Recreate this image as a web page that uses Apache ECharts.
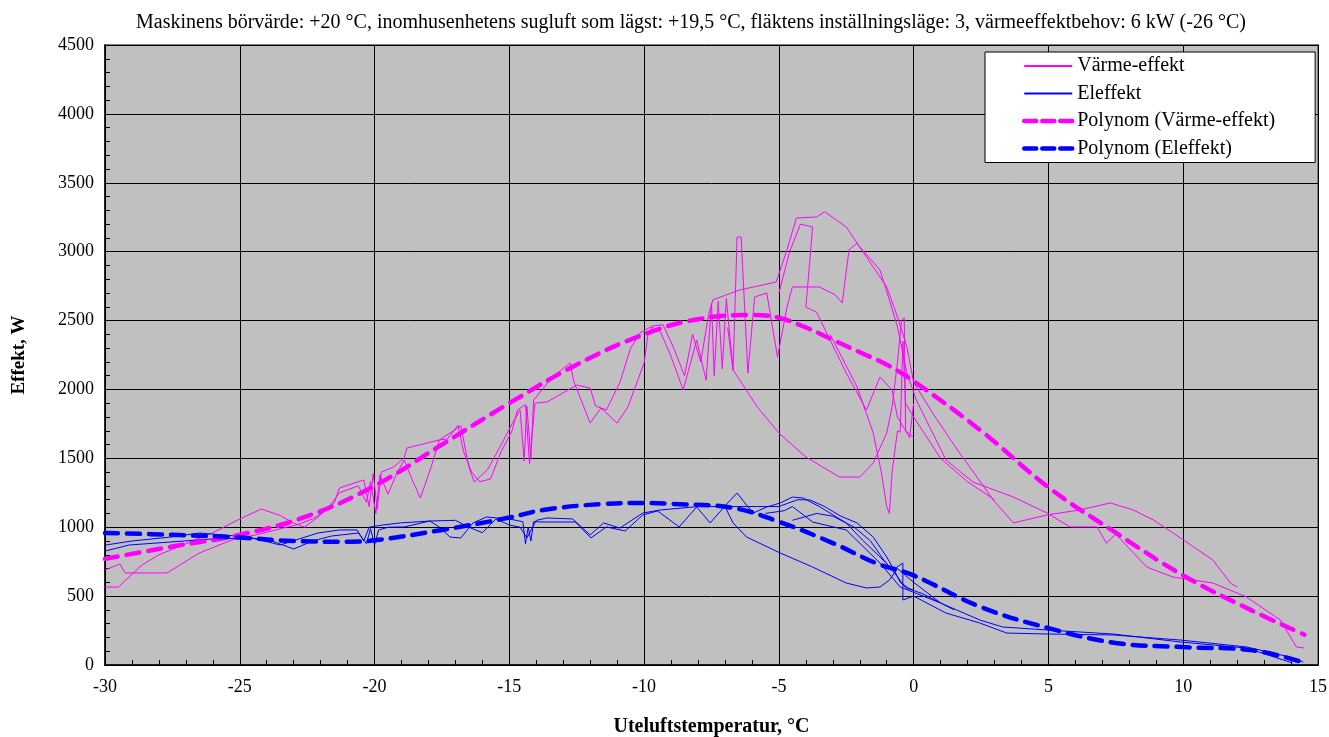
<!DOCTYPE html>
<html>
<head>
<meta charset="utf-8">
<script src="https://cdn.jsdelivr.net/npm/echarts@6/dist/echarts.min.js"></script>
<style>
html,body{margin:0;padding:0;background:#fff;}
#chart{width:1329px;height:737px;}
</style>
</head>
<body>
<div id="chart"></div>
<script>
const titleText = 'Maskinens börvärde: +20 °C, inomhusenhetens sugluft som lägst: +19,5 °C, fläktens inställningsläge: 3, värmeeffektbehov: 6 kW (-26 °C)';
const seriesNames = ['Värme-effekt', 'Eleffekt', 'Polynom (Värme-effekt)', 'Polynom (Eleffekt)'];
const xTicks = { min: -30, max: 15, step: 5 };
const yTicks = { min: 0, max: 4500, step: 500 };

// Värme-effekt (raw traces, [temperature, W])
const heatPass1 = [[-30,566],[-29.5,566],[-29.1,640],[-28.6,730],[-28,800],[-27,880],[-26,960],[-25,1060],[-24.2,1132],[-23.5,1085],[-23,1030],[-22.6,1000],[-22.1,1074],[-21.5,1176],[-21.3,1285],[-20.4,1343],[-20.2,1150],[-20.05,1390],[-19.9,1130],[-19.75,1400],[-19.3,1437],[-18.9,1502],[-18.8,1575],[-17.6,1633],[-16.8,1735],[-16.5,1437],[-16.3,1328],[-15.8,1420],[-15.3,1600],[-14.9,1750],[-14.6,1851],[-14.45,1480],[-14.35,1880],[-14.2,1500],[-14.1,1923],[-13.4,2090],[-12.75,2192],[-12.6,2054],[-12,1756],[-11.6,1865],[-11,1756],[-10.6,1873],[-10,2192],[-9.85,2410],[-9.7,2453],[-9.4,2420],[-9.05,2265],[-8.55,1996],[-8.05,2359],[-7.7,2068],[-7.5,2627],[-7.4,2100],[-7.25,2640],[-7.1,2150],[-6.95,2660],[-6.7,2141],[-6.55,3106],[-6.4,3106],[-6.15,2119],[-5.9,2671],[-5.45,2700],[-5.05,2235],[-4.7,2598],[-4.5,2744],[-3.5,2744],[-2.9,2685],[-2.65,2627],[-2.4,3012],[-2.1,3063],[-1.5,2889],[-1,2744],[-0.6,2526],[-0.25,2308],[0,2050],[0.8,1800],[1.7,1540],[2.4,1350],[2.95,1198],[3.7,1031],[4.95,1089],[6.15,1125],[7.3,1176],[8.15,1125],[8.9,1052],[9.9,922],[11.1,762],[11.75,595],[12,566]];
const heatPass2 = [[-30,690],[-29.45,733],[-29.25,668],[-27.7,668],[-26.5,813],[-25.3,907],[-24.1,958],[-23.4,994],[-22.9,1016],[-22.3,1060],[-21.8,1120],[-21.3,1250],[-20.6,1300],[-20.3,1180],[-20.15,1330],[-19.95,1100],[-19.8,1380],[-19.5,1240],[-19.2,1380],[-18.9,1488],[-18.6,1343],[-18.3,1212],[-17.9,1437],[-17.6,1633],[-17.3,1640],[-16.9,1740],[-16.7,1550],[-16.4,1400],[-16.1,1330],[-15.7,1350],[-15.3,1550],[-14.9,1700],[-14.7,1851],[-14.4,1890],[-14.25,1460],[-14.05,1900],[-13.6,1909],[-12.5,2032],[-12,2010],[-11.8,1880],[-11.4,1851],[-10.9,2050],[-10.5,2300],[-10.15,2410],[-9.7,2460],[-9.3,2470],[-8.9,2300],[-8.5,2100],[-8.2,2400],[-7.9,2200],[-7.6,2550],[-7.45,2650],[-6.45,2722],[-5.1,2780],[-4.7,3012],[-4.35,3244],[-3.6,3252],[-3.3,3290],[-2.5,3179],[-2,3034],[-1.25,2867],[-0.9,2649],[-0.6,2453],[-0.25,2119],[0.1,1923],[1.2,1488],[2.2,1328],[3.7,1219],[4.95,1103],[5.8,1002],[6.8,1002],[7.15,885],[7.5,950],[8.65,711],[9.6,639],[11.1,595],[12.35,494],[13.6,327],[14.2,131],[14.5,123]];
const heatPass3 = [[-6.9,2450],[-6.7,2141],[-5.8,1873],[-5,1684],[-4,1510],[-2.75,1364],[-2,1364],[-1.5,1466],[-1,1684],[-0.8,1873],[-0.6,2200],[-0.45,2500],[-0.35,2520],[-0.3,1700],[-0.15,1650],[0,1900]];
const heatPass4 = [[-5.0,2700],[-4.6,3000],[-4.2,3200],[-3.75,3179],[-3.85,2940],[-4,2598],[-3.6,2560],[-3.1,2359],[-2.5,2119],[-1.75,1851],[-1.25,2090],[-0.8,1996],[-0.6,1800],[-0.3,1700],[0,1650]];
const heatPass5 = [[-3.1,2400],[-2.1,2018],[-1.5,1684],[-1.2,1400],[-1,1150],[-0.9,1100],[-0.8,1400],[-0.6,1700],[-0.5,1690],[-0.4,2350],[-0.3,1900],[0,1800],[1,1500],[2,1330],[3,1200]];

// Eleffekt (raw traces)
const elPass1 = [[-30,827],[-29.1,871],[-27.55,893],[-26,915],[-24.6,922],[-23.8,900],[-23,842],[-22.3,900],[-21.6,936],[-20.6,958],[-20.3,880],[-20.15,990],[-20,870],[-19.85,980],[-19.5,1000],[-18.9,1002],[-17.95,1045],[-17.6,1002],[-17.2,929],[-16.8,922],[-16.35,1031],[-15.85,1074],[-15,1060],[-14.5,1040],[-14.4,880],[-14.3,1000],[-14.2,900],[-14.1,1040],[-13.75,1038],[-12.55,1038],[-11.97,922],[-11.4,1002],[-10.7,973],[-10.05,1089],[-9.5,1118],[-8.7,1002],[-8.05,1147],[-7.55,1031],[-6.9,1176],[-6.55,1248],[-6.2,1161],[-5.95,1103],[-5.45,1147],[-4.95,1176],[-4.5,1219],[-4.1,1212],[-3.5,1150],[-2.5,1031],[-1.9,907],[-1.25,784],[-0.77,690],[-0.4,740],[-0.4,472],[0,500],[1.2,377],[2.45,305],[3.45,232],[4.95,225],[7.4,218],[9.9,181],[12.35,131],[13.95,58],[14.45,22]];
const elPass2 = [[-30,870],[-29,900],[-27.5,930],[-26.5,958],[-24.7,929],[-23.5,871],[-22.1,958],[-21.3,980],[-20.65,980],[-20.4,900],[-20.2,1000],[-19.7,1016],[-19.05,1031],[-17.95,1045],[-17,1050],[-16.5,1000],[-16,960],[-15.5,1060],[-15,1016],[-14.6,1000],[-14.35,922],[-14,1050],[-13.6,1067],[-12.65,1060],[-12,944],[-11.5,1031],[-10.9,994],[-10.05,1103],[-9.4,1125],[-8,1150],[-7,1150],[-6.7,1031],[-6.2,929],[-4.95,813],[-3.75,711],[-2.5,595],[-1.75,559],[-1.25,566],[-0.9,617],[-0.6,700],[-0.3,650],[0,600],[1,450],[2.45,327],[3.3,276],[4.95,254],[7.4,225],[9.9,167],[12.35,123],[14.05,15]];
const elPass3 = [[-6.9,1150],[-5.8,1150],[-5,1150],[-4.3,1200],[-3.85,1198],[-3.3,1150],[-2.7,1080],[-2.1,1031],[-1.5,929],[-1,784],[-0.7,680],[-0.5,600],[-0.2,560],[0,540]];
const elPass4 = [[-5.5,1100],[-4.8,1120],[-4.5,1150],[-3.75,1038],[-2.5,980],[-1.25,740],[-0.5,566],[1,450]];
const elPass5 = [[-4.5,1050],[-3.6,1100],[-3,1080],[-2.2,1000],[-1.6,900],[-1.1,760],[-0.6,640],[-0.3,560],[0.3,520],[1.5,400]];

// Polynomial trend lines
const heatTrend = [[-30,770],[-27.5,860],[-25,945],[-22.5,1080],[-20,1300],[-17.5,1600],[-15,1900],[-12.5,2180],[-10,2400],[-8,2510],[-6,2540],[-5,2520],[-4,2450],[-3,2360],[-2,2270],[-1,2180],[0,2060],[2.5,1700],[5,1290],[7.5,960],[10,650],[12.5,400],[14.5,220]];
const elTrend = [[-30,958],[-27.5,945],[-25,925],[-23,900],[-21,895],[-20,905],[-17.5,980],[-15,1070],[-13.75,1125],[-11.6,1168],[-10,1176],[-9,1170],[-6.7,1140],[-5,1040],[-3,885],[-1.4,740],[0,650],[2.5,420],[5,268],[7.5,160],[10,130],[12.5,108],[14.4,22]];

const font = 'Liberation Serif, Times New Roman, serif';
const heatColor = '#FF00FF';
const elColor = '#0000FF';
const dashPattern = [13, 9];

function raw(name, data, color) {
  return { name, type: 'line', data, symbol: 'none', showSymbol: false, smooth: false,
    lineStyle: { color, width: 1 }, itemStyle: { color }, z: 2, silent: true, animation: false };
}
function trend(name, data, color) {
  return { name, type: 'line', data, symbol: 'none', showSymbol: false, smooth: 0.4,
    lineStyle: { color, width: 4.5, type: dashPattern, cap: 'round' }, itemStyle: { color }, z: 3, silent: true, animation: false };
}

const series = [
  raw(seriesNames[0], heatPass1, heatColor),
  raw(seriesNames[0], heatPass2, heatColor),
  raw(seriesNames[0], heatPass3, heatColor),
  raw(seriesNames[0], heatPass4, heatColor),
  raw(seriesNames[0], heatPass5, heatColor),
  raw(seriesNames[1], elPass1, elColor),
  raw(seriesNames[1], elPass2, elColor),
  raw(seriesNames[1], elPass3, elColor),
  raw(seriesNames[1], elPass4, elColor),
  raw(seriesNames[1], elPass5, elColor),
  trend(seriesNames[2], heatTrend, heatColor),
  trend(seriesNames[3], elTrend, elColor)
];

const legendData = [
  { name: seriesNames[0] },
  { name: seriesNames[1] },
  { name: seriesNames[2], lineStyle: { color: heatColor, width: 4.5, type: [12, 6], cap: 'round' } },
  { name: seriesNames[3], lineStyle: { color: elColor, width: 4.5, type: [12, 6], cap: 'round' } }
];

const chart = echarts.init(document.getElementById('chart'));
chart.setOption({
  animation: false,
  backgroundColor: '#ffffff',
  title: { text: titleText, left: 131, top: 8,
    textStyle: { fontFamily: font, fontSize: 20, fontWeight: 'normal', color: '#000' } },
  grid: { left: 105, right: 11, top: 45, bottom: 72, show: true, backgroundColor: '#C0C0C0',
    borderColor: '#808080', borderWidth: 2, containLabel: false, outerBoundsMode: 'none' },
  legend: { data: legendData, orient: 'vertical', left: 985, top: 52,
    backgroundColor: '#ffffff', borderColor: '#000', borderWidth: 1, borderRadius: 0,
    padding: [4, 40, 4, 37], itemWidth: 48, itemHeight: 14, itemGap: 7.5,
    itemStyle: { opacity: 0 },
    textStyle: { fontFamily: font, fontSize: 20, color: '#000', lineHeight: 20 } },
  xAxis: { type: 'value', min: xTicks.min, max: xTicks.max, interval: xTicks.step,
    name: 'Uteluftstemperatur, °C', nameLocation: 'middle', nameGap: 52,
    nameTextStyle: { fontFamily: font, fontSize: 20, fontWeight: 'bold', color: '#000' },
    axisLine: { onZero: false, lineStyle: { color: '#000', width: 1.5 } },
    axisTick: { show: true, inside: true, length: 5, lineStyle: { color: '#000' } },
    minorTick: { show: true, splitNumber: 5, length: 5, lineStyle: { color: '#000' } },
    axisLabel: { fontFamily: font, fontSize: 18, color: '#000', margin: 13,
      formatter: function (v) { return String(v); } },
    splitLine: { show: true, lineStyle: { color: '#000', width: 1 } } },
  yAxis: { type: 'value', min: yTicks.min, max: yTicks.max, interval: yTicks.step,
    name: 'Effekt, W', nameLocation: 'middle', nameGap: 76, nameRotate: 90,
    nameTextStyle: { fontFamily: font, fontSize: 19, fontWeight: 'bold', color: '#000' },
    axisLine: { show: true, onZero: false, lineStyle: { color: '#000', width: 1.5 } },
    axisTick: { show: true, inside: true, length: 5, lineStyle: { color: '#000' } },
    minorTick: { show: true, splitNumber: 5, length: 5, lineStyle: { color: '#000' } },
    axisLabel: { fontFamily: font, fontSize: 18, color: '#000', margin: 11,
      formatter: function (v) { return String(v); } },
    splitLine: { show: true, lineStyle: { color: '#000', width: 1 } } },
  series
});
</script>
</body>
</html>
